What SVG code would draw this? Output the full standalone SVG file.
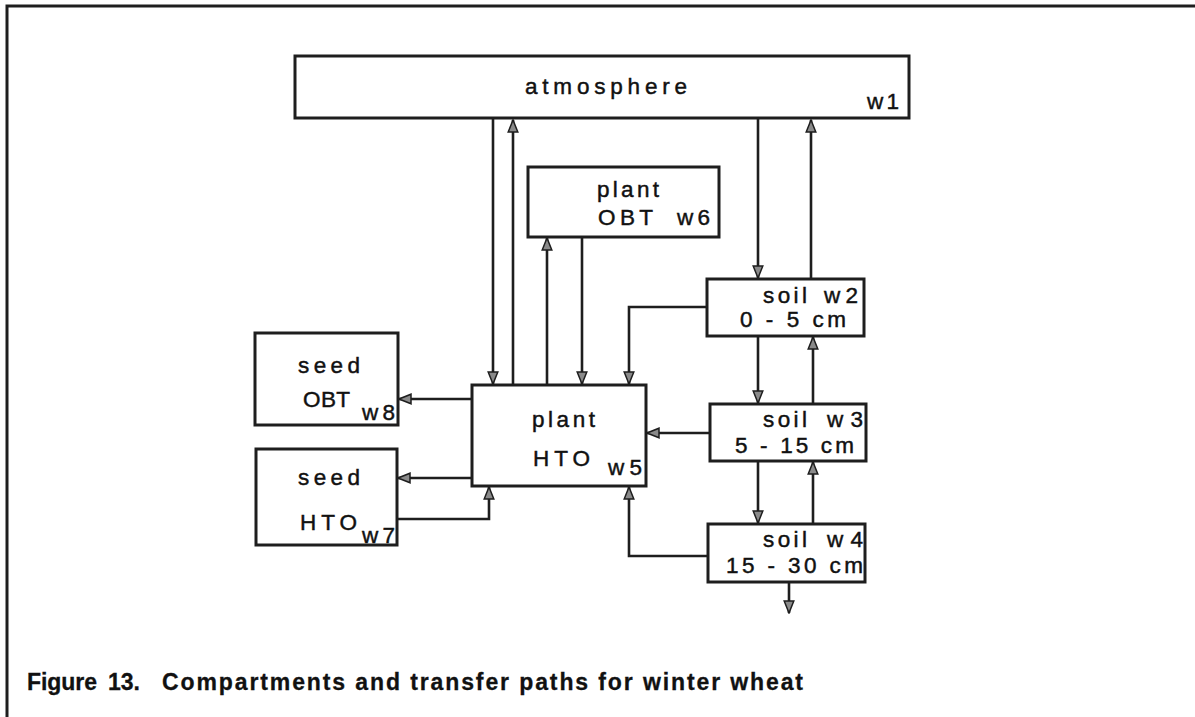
<svg xmlns="http://www.w3.org/2000/svg" width="1195" height="717" viewBox="0 0 1195 717">
<defs>
<style>
.box{fill:#fff;stroke:#1e1e1e;stroke-width:3}
.ln{fill:none;stroke:#1e1e1e;stroke-width:2.6}
.arr{marker-end:url(#ah)}
text{font-family:"Liberation Sans",Arial,sans-serif;font-size:22.5px;fill:#111;stroke:#111;stroke-width:0.45}
.cap{font-weight:bold;font-size:23px;stroke-width:0.3}
</style>
<marker id="ah" viewBox="0 0 14 12" refX="13" refY="6" markerWidth="14" markerHeight="12" markerUnits="userSpaceOnUse" orient="auto">
<path d="M1,1.2 L13,6 L1,10.8 z" fill="#8a8a8a" stroke="#1e1e1e" stroke-width="1.5"/>
</marker>
</defs>
<rect width="1195" height="717" fill="#fff"/>
<g id="frame">
<path d="M7,717 L7,6 L1195,6" fill="none" stroke="#1e1e1e" stroke-width="3"/>
</g>
<g id="connectors">
<path class="ln arr" d="M493,118 L493,384"/>
<path class="ln arr" d="M513,385 L513,120"/>
<path class="ln arr" d="M547,385 L547,238"/>
<path class="ln arr" d="M582,237 L582,384"/>
<path class="ln arr" d="M758,118 L758,278"/>
<path class="ln arr" d="M811,279 L811,120"/>
<path class="ln arr" d="M707,307 L629,307 L629,384"/>
<path class="ln arr" d="M758,336 L758,403"/>
<path class="ln arr" d="M813,404 L813,337"/>
<path class="ln arr" d="M758,461 L758,523"/>
<path class="ln arr" d="M813,524 L813,462"/>
<path class="ln arr" d="M710,433 L647,433"/>
<path class="ln arr" d="M708,556 L629,556 L629,487"/>
<path class="ln arr" d="M789,582 L789,613"/>
<path class="ln arr" d="M472,399 L399,399"/>
<path class="ln arr" d="M472,478 L398,478"/>
<path class="ln arr" d="M397,519 L489,519 L489,487"/>
</g>
<g id="w1">
<rect class="box" x="295" y="56" width="614" height="62"/>
<text x="525" y="94" textLength="162" lengthAdjust="spacing">atmosphere</text>
<text x="867" y="109" textLength="32" lengthAdjust="spacing">w1</text>
</g>
<g id="w6">
<rect class="box" x="528" y="167" width="191" height="70"/>
<text x="597" y="197" textLength="62" lengthAdjust="spacing">plant</text>
<text x="598" y="225" textLength="55" lengthAdjust="spacing">OBT</text>
<text x="677" y="225" textLength="33" lengthAdjust="spacing">w6</text>
</g>
<g id="w2">
<rect class="box" x="707" y="279" width="157" height="57"/>
<text x="763" y="303" textLength="44" lengthAdjust="spacing">soil</text>
<text x="824" y="303" textLength="34" lengthAdjust="spacing">w2</text>
<text x="740" y="327" textLength="106" lengthAdjust="spacing">0 - 5 cm</text>
</g>
<g id="w3">
<rect class="box" x="710" y="404" width="156" height="57"/>
<text x="763" y="427" textLength="44" lengthAdjust="spacing">soil</text>
<text x="827" y="427" textLength="36" lengthAdjust="spacing">w3</text>
<text x="735" y="453" textLength="119" lengthAdjust="spacing">5 - 15 cm</text>
</g>
<g id="w4">
<rect class="box" x="708" y="524" width="157" height="58"/>
<text x="763" y="547" textLength="44" lengthAdjust="spacing">soil</text>
<text x="827" y="547" textLength="36" lengthAdjust="spacing">w4</text>
<text x="726" y="573" textLength="137" lengthAdjust="spacing">15 - 30 cm</text>
</g>
<g id="w5">
<rect class="box" x="472" y="385" width="174" height="101"/>
<text x="532" y="427" textLength="63" lengthAdjust="spacing">plant</text>
<text x="533" y="466" textLength="57" lengthAdjust="spacing">HTO</text>
<text x="608" y="475" textLength="34" lengthAdjust="spacing">w5</text>
</g>
<g id="w8">
<rect class="box" x="255" y="333" width="143" height="92"/>
<text x="298" y="373" textLength="62" lengthAdjust="spacing">seed</text>
<text x="303" y="407" textLength="47" lengthAdjust="spacing">OBT</text>
<text x="362" y="420" textLength="33" lengthAdjust="spacing">w8</text>
</g>
<g id="w7">
<rect class="box" x="256" y="449" width="141" height="96"/>
<text x="298" y="485" textLength="62" lengthAdjust="spacing">seed</text>
<text x="300" y="530" textLength="57" lengthAdjust="spacing">HTO</text>
<text x="362" y="543" textLength="33" lengthAdjust="spacing">w7</text>
</g>
<g id="caption">
<text class="cap" x="27" y="690" textLength="70" lengthAdjust="spacing">Figure</text>
<text class="cap" x="108" y="690">13.</text>
<text class="cap" x="162" y="690" textLength="641" lengthAdjust="spacing">Compartments and transfer paths for winter wheat</text>
</g>
</svg>
